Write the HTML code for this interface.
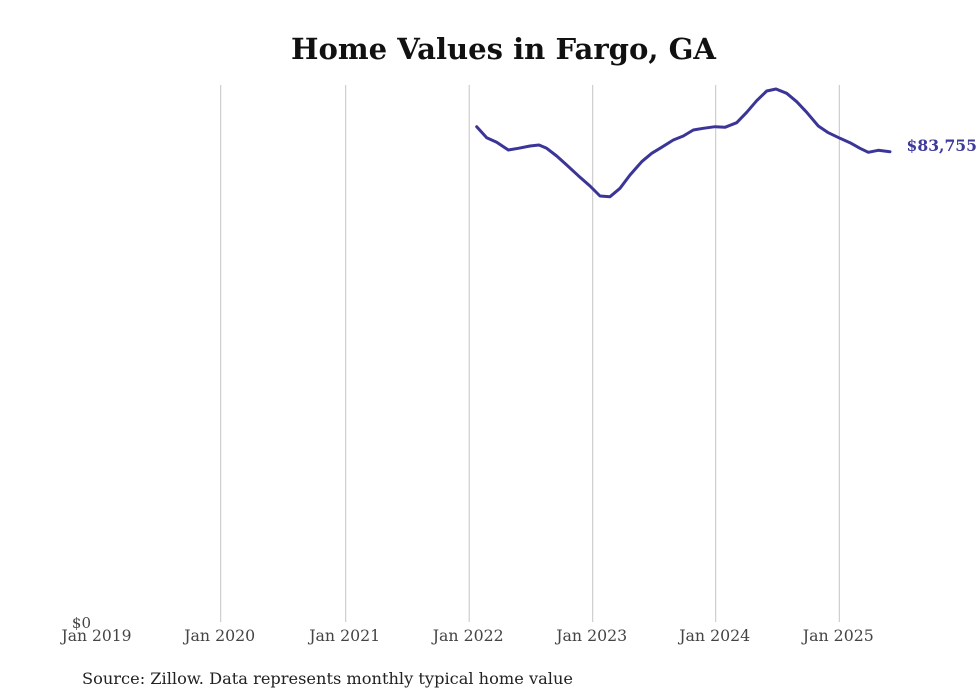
<!DOCTYPE html>
<html>
<head>
<meta charset="utf-8">
<style>
  html, body { margin: 0; padding: 0; background: #ffffff; }
  svg { display: block; }
  text { font-family: "DejaVu Serif", "Liberation Serif", serif; }
</style>
</head>
<body>
<svg width="980" height="699" viewBox="0 0 980 699" xmlns="http://www.w3.org/2000/svg">
  <rect width="980" height="699" fill="#ffffff"/>
  <!-- title -->
  <text x="291" y="59" font-size="28.5" font-weight="bold" fill="#111" textLength="425" lengthAdjust="spacingAndGlyphs">Home Values in Fargo, GA</text>

  <!-- gridlines -->
  <g stroke="#c4c4c4" stroke-width="1">
    <line x1="220.7" y1="85" x2="220.7" y2="622"/>
    <line x1="345.7" y1="85" x2="345.7" y2="622"/>
    <line x1="469.2" y1="85" x2="469.2" y2="622"/>
    <line x1="592.7" y1="85" x2="592.7" y2="622"/>
    <line x1="715.7" y1="85" x2="715.7" y2="622"/>
    <line x1="839.3" y1="85" x2="839.3" y2="622"/>
  </g>

  <!-- x tick labels -->
  <g font-size="16" fill="#444" text-anchor="middle">
    <text x="96.5" y="641" textLength="70" lengthAdjust="spacingAndGlyphs">Jan 2019</text>
    <text x="219.7" y="641" textLength="71" lengthAdjust="spacingAndGlyphs">Jan 2020</text>
    <text x="344.7" y="641" textLength="71" lengthAdjust="spacingAndGlyphs">Jan 2021</text>
    <text x="468.2" y="641" textLength="71" lengthAdjust="spacingAndGlyphs">Jan 2022</text>
    <text x="591.7" y="641" textLength="71" lengthAdjust="spacingAndGlyphs">Jan 2023</text>
    <text x="714.7" y="641" textLength="71" lengthAdjust="spacingAndGlyphs">Jan 2024</text>
    <text x="838.3" y="641" textLength="71" lengthAdjust="spacingAndGlyphs">Jan 2025</text>
  </g>
  <!-- y label -->
  <text x="91" y="628" font-size="15" fill="#444" text-anchor="end">$0</text>

  <!-- series -->
  <polyline fill="none" stroke="#3b3597" stroke-width="3" stroke-linejoin="round" stroke-linecap="round"
    points="476.7,126.7 486.7,137.7 496.7,142.3 508.3,150 518.3,148.3 530,146 539,145 546.7,148.3 556.7,156 566.7,165 578.3,175.7 590,186 600,196 610,196.7 620,188.3 630,175 641.7,161.7 651.7,153.3 660,148.3 673.3,140 683.3,136 693.3,130 703.3,128.3 715,126.7 725,127.3 736.7,122.7 746.7,112.3 756.7,100.7 766.7,91 776,89 786.7,93.3 796.7,101.7 806.7,112.3 818.3,126 828.3,132.7 840,138.3 850,142.7 860,148.3 868.3,152.3 878.3,150.3 890,151.7"/>
  <text x="906.5" y="151" font-size="15.5" font-weight="bold" fill="#3d3a9a" textLength="70.5" lengthAdjust="spacingAndGlyphs">$83,755</text>

  <!-- source -->
  <text x="82" y="684" font-size="16" fill="#222" textLength="491" lengthAdjust="spacingAndGlyphs">Source: Zillow. Data represents monthly typical home value</text>
</svg>
</body>
</html>
